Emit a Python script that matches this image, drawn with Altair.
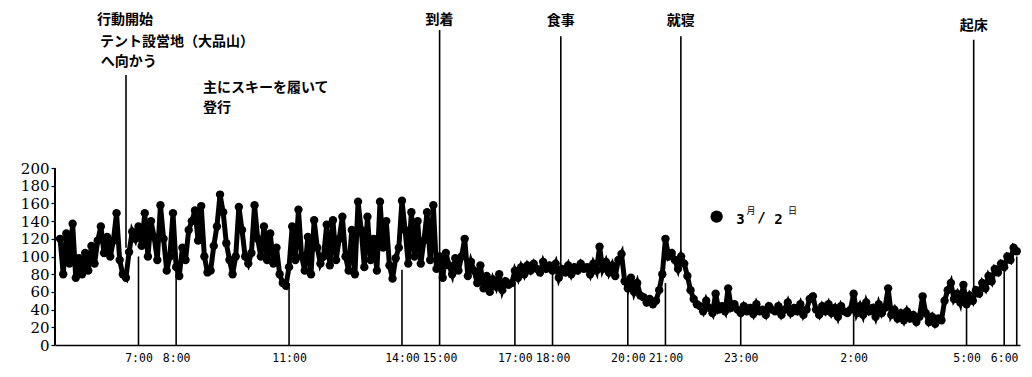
import altair as alt
import pandas as pd

# ---- heart-rate samples, one every 5 minutes, starting 4:55 ----
START = 4 + 55 / 60
STEP = 1 / 12

hr_05 = [120, 80, 126, 92, 137, 76, 98, 80, 104, 84, 112, 92]
hr_06 = [118, 134, 104, 122, 100, 118, 149, 96, 80, 76, 105, 128]
hr_07 = [120, 134, 112, 149, 100, 140, 122, 96, 158, 120, 84, 100]
hr_08 = [149, 88, 78, 110, 96, 130, 140, 152, 118, 157, 100, 82]
hr_09 = [84, 112, 134, 170, 150, 115, 96, 80, 100, 156, 130, 100]
hr_10 = [92, 104, 158, 120, 100, 134, 96, 126, 92, 110, 80, 70]
hr_11 = [67, 88, 134, 96, 153, 100, 84, 122, 80, 141, 110, 92]
hr_12 = [100, 136, 90, 141, 96, 120, 145, 100, 84, 130, 80, 162]
hr_13 = [130, 88, 145, 96, 120, 84, 162, 110, 140, 90, 75, 98]
hr_14 = [110, 163, 130, 92, 150, 100, 140, 92, 118, 150, 96, 158]
hr_15 = [86, 100, 76, 104, 90, 80, 98, 84, 100, 120, 78, 94]
hr_16 = [84, 70, 90, 64, 78, 60, 74, 66, 80, 62, 72, 68]
hr_17 = [70, 84, 76, 88, 80, 90, 84, 92, 86, 82, 94, 86]
hr_18 = [90, 84, 92, 76, 86, 82, 90, 80, 88, 84, 92, 86]
hr_19 = [88, 80, 92, 84, 111, 86, 94, 82, 90, 78, 96, 103]
hr_20 = [72, 64, 76, 60, 70, 56, 54, 48, 52, 46, 50, 62]
hr_21 = [80, 120, 100, 104, 96, 86, 100, 92, 78, 62, 52, 46]
hr_22 = [44, 38, 50, 42, 36, 58, 40, 44, 38, 64, 42, 46]
hr_23 = [40, 36, 44, 38, 42, 35, 46, 38, 40, 34, 44, 40]
hr_00 = [38, 44, 34, 40, 48, 36, 42, 38, 46, 34, 40, 52]
hr_01 = [55, 40, 34, 44, 38, 46, 36, 42, 32, 44, 38, 36]
hr_02 = [40, 58, 36, 44, 34, 48, 38, 42, 32, 46, 36, 42]
hr_03 = [64, 34, 40, 30, 36, 28, 38, 30, 34, 26, 32, 55]
hr_04 = [36, 26, 32, 24, 30, 28, 50, 62, 70, 52, 58, 48]
hr_05b = [68, 46, 56, 50, 62, 58, 70, 64, 78, 72, 86, 82]
hr_06b = [92, 88, 100, 96, 110, 106]

blocks = [hr_05, hr_06, hr_07, hr_08, hr_09, hr_10, hr_11, hr_12, hr_13, hr_14,
          hr_15, hr_16, hr_17, hr_18, hr_19, hr_20, hr_21, hr_22, hr_23,
          hr_00, hr_01, hr_02, hr_03, hr_04, hr_05b, hr_06b]
values = [v for b in blocks for v in b]
times = [START + i * STEP for i in range(len(values))]
hr = pd.DataFrame({"t": times, "bpm": values})

# hour tick drop-lines
tick_hours = [7, 8, 11, 14, 17, 18, 20, 21, 23, 26, 29, 30, times[-1]]
tick_tops = [100, 90, 70, 85, 70, 85, 60, 70, 40, 38, 44, 85, 100]
ticks = pd.DataFrame({"t": tick_hours, "lo": [0] * len(tick_hours), "hi": tick_tops})

# event markers
event_names = ["到着", "食事", "就寝", "起床"]
event_times = [15.0, 18.22, 21.41, 29.19]
event_lo = [0, 85, 90, 50]
event_hi = [356, 349, 349, 345]
event_label_y = [367, 366, 366, 360]
events = pd.DataFrame({"t": event_times, "lo": event_lo, "hi": event_hi,
                       "ly": event_label_y, "name": event_names})

start_line = pd.DataFrame({"t": [6.668], "lo": [110], "hi": [305]})

notes = pd.DataFrame({
    "text": ["行動開始", "テント設営地（大品山）", "へ向かう", "主にスキーを履いて", "登行"],
    "t": [5.897, 5.977, 6.0, 8.714, 8.714],
    "y": [367, 342, 320, 290, 268],
})

axis_labels = [7, 8, 11, 14, 15, 17, 18, 20, 21, 23, 26, 29, 30]

X0, X1 = 4.7816, 30.42
Y0, Y1 = 0, 376.3
xs = alt.Scale(domain=[X0, X1], nice=False, zero=False)
ys = alt.Scale(domain=[Y0, Y1], nice=False, zero=False)

x_axis = alt.Axis(
    values=axis_labels, labelExpr="(datum.value % 24) + ':00'",
    title=None, grid=False, ticks=False, labelPadding=7,
    labelFont="DejaVu Sans Mono", labelFontSize=11.5, labelColor="black",
    labelOverlap=False, labelFlush=False, domainColor="black", domainWidth=1.6)
y_axis = alt.Axis(
    values=list(range(0, 201, 20)), title=None, grid=False, domain=False,
    tickSize=4, tickColor="black", tickWidth=1.2, labelPadding=2,
    labelFont="DejaVu Serif", labelFontSize=15, labelColor="black",
    labelOverlap=False, labelFlush=False)


def X(field="t"):
    return alt.X(f"{field}:Q", scale=xs, axis=x_axis)


def Y(field):
    return alt.Y(f"{field}:Q", scale=ys, axis=y_axis)


drop = alt.Chart(ticks).mark_rule(color="black", strokeWidth=1.6).encode(
    x=X(), y=Y("lo"), y2="hi:Q")

ev_lines = alt.Chart(events).mark_rule(color="black", strokeWidth=1.6).encode(
    x=X(), y=Y("lo"), y2="hi:Q")

st_line = alt.Chart(start_line).mark_rule(color="black", strokeWidth=1.6).encode(
    x=X(), y=Y("lo"), y2="hi:Q")

ev_text = alt.Chart(events).mark_text(
    font="Noto Sans CJK JP", fontSize=14, fontWeight="bold", color="black",
    align="center", baseline="middle").encode(
    x=X(), y=Y("ly"), text="name:N")

note_text = alt.Chart(notes).mark_text(
    font="Noto Sans CJK JP", fontSize=14, fontWeight="bold", color="black",
    align="left", baseline="middle").encode(
    x=X(), y=Y("y"), text="text:N")

line = alt.Chart(hr).mark_line(color="black", strokeWidth=5).encode(
    x=X(), y=Y("bpm"))

pts = alt.Chart(hr).mark_circle(color="black", size=70, opacity=1).encode(
    x=X(), y=Y("bpm"))

yaxis_line = alt.Chart(pd.DataFrame({"lo": [0], "hi": [200]})).mark_rule(
    color="black", strokeWidth=2).encode(
    x=alt.value(0), y=Y("lo"), y2="hi:Q")

# legend "● 3月/2日"
leg_dot = alt.Chart(pd.DataFrame({"t": [22.36], "y": [145]})).mark_circle(
    color="black", size=150, opacity=1).encode(x=X(), y=Y("y"))
leg_big = alt.Chart(pd.DataFrame({"t": [22.994, 23.551, 24.003], "y": [141.2, 143.5, 141.2],
                                  "s": ["3", "/", "2"]})).mark_text(
    font="DejaVu Sans Mono", fontSize=14, fontWeight="bold", color="black",
    align="center", baseline="middle").encode(
    x=X(), y=Y("y"), text="s:N")
leg_small = alt.Chart(pd.DataFrame({"t": [23.273, 24.375], "y": [151.4, 151.4],
                                    "s": ["月", "日"]})).mark_text(
    font="Noto Sans CJK JP", fontSize=9, color="black",
    align="center", baseline="middle").encode(
    x=X(), y=Y("y"), text="s:N")

chart = alt.layer(
    line, drop, ev_lines, st_line, pts, yaxis_line, ev_text, note_text,
    leg_dot, leg_big, leg_small
).properties(
    width=965, height=333,
    autosize=alt.AutoSizeParams(type="none"),
    padding={"left": 47, "top": 4, "right": 2, "bottom": 22},
    background="white",
).configure_view(stroke=None)

chart.save("out.html", embed_options={"renderer": "svg", "actions": False})
